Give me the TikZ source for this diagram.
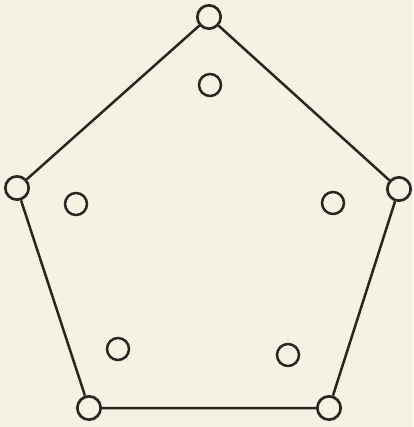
\documentclass[tikz,border=0pt]{standalone}
\definecolor{paper}{RGB}{245,242,228}
\definecolor{ink}{RGB}{40,38,34}
\begin{document}
\begin{tikzpicture}[x=0.03cm,y=-0.03cm,
  vtx/.style={circle,draw=ink,line width=0.08cm,inner sep=0pt,minimum size=0.7cm},
  iso/.style={circle,draw=ink,line width=0.075cm,inner sep=0pt,minimum size=0.66cm},
  edge/.style={draw=ink,line width=0.075cm}]
\fill[paper] (0,0) rectangle (413,427);
\useasboundingbox (0,0) rectangle (413,427);
\node[vtx] (t) at (209,17) {};
\node[vtx] (l) at (17,188) {};
\node[vtx] (r) at (399,189) {};
\node[vtx] (bl) at (89,408) {};
\node[vtx] (br) at (329,408) {};
\node[iso] (it) at (210,85) {};
\node[iso] (il) at (76,204) {};
\node[iso] (ir) at (333,203) {};
\node[iso] (ibl) at (118,349) {};
\node[iso] (ibr) at (288,355) {};
\path[edge] (t) -- (l) (l) -- (bl) (bl) -- (br) (br) -- (r) (r) -- (t);
\end{tikzpicture}
\end{document}
